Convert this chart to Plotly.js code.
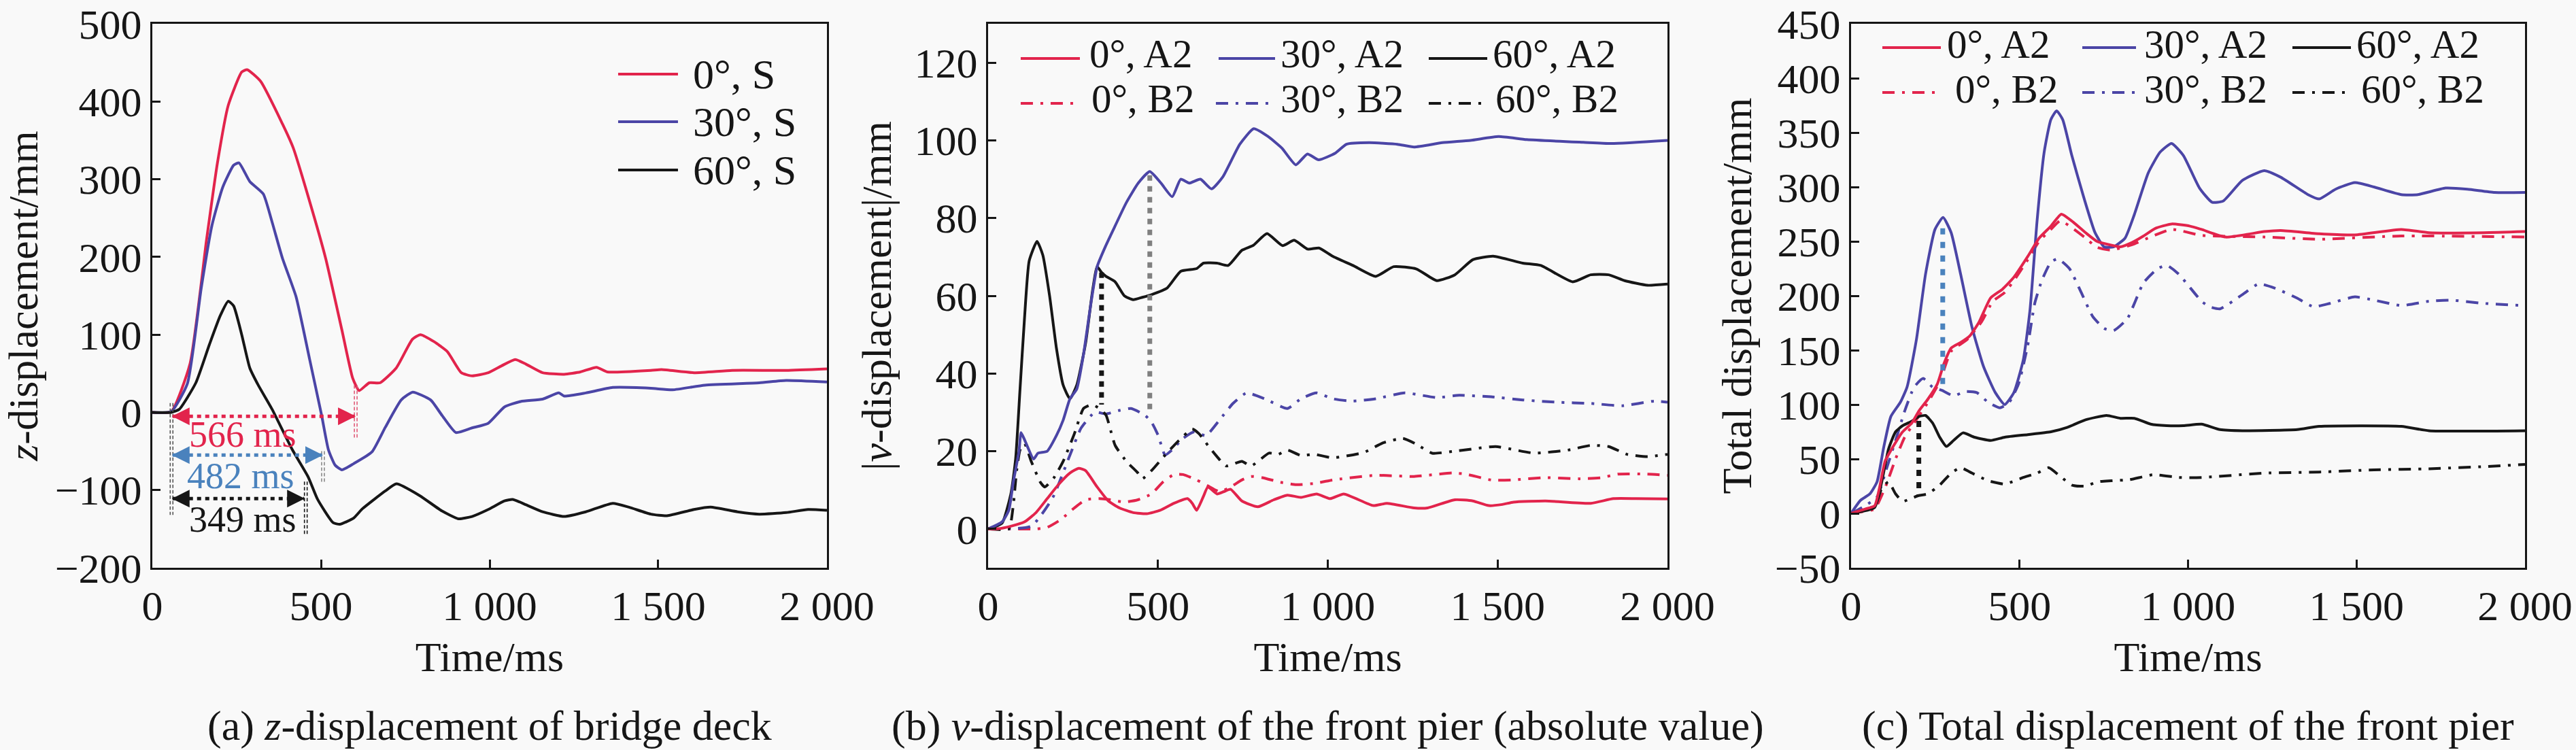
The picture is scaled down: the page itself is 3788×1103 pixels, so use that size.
<!DOCTYPE html>
<html>
<head>
<meta charset="utf-8">
<script src="https://cdn.plot.ly/plotly-3.0.1.min.js"></script>
<style>
  html, body { margin: 0; padding: 0; background: #f9f9f9; }
  #chart { width: 3788px; height: 1103px; }
</style>
</head>
<body>
<div id="chart"></div>
<script>
// (a) z-displacement of the bridge deck, mm
const deckT0 = [0, 56, 112, 161, 193, 225, 265, 281, 321, 386, 418, 466, 514, 562, 594, 613, 643, 675, 723, 771, 795, 835, 875, 916, 948, 996, 1036, 1076, 1108, 1157, 1221, 1269, 1317, 1349, 1478, 1510, 1606, 1719, 1879, 2000]
const deckZ0 = [0, 1, 63, 223, 321, 395, 438, 441, 426, 371, 340, 272, 198, 106, 44, 28, 38, 38, 57, 94, 100, 91, 78, 51, 47, 51, 60, 68, 62, 51, 49, 52, 58, 52, 54, 55, 51, 54, 54, 56]
const deckT30 = [0, 56, 104, 145, 177, 209, 241, 257, 289, 329, 353, 386, 426, 466, 502, 522, 542, 562, 597, 651, 691, 738, 772, 825, 859, 900, 948, 996, 1044, 1092, 1157, 1205, 1221, 1285, 1365, 1478, 1542, 1638, 1799, 1879, 2000]
const deckZ30 = [0, 1, 37, 160, 241, 290, 318, 321, 297, 281, 248, 198, 149, 69, -4, -48, -68, -74, -66, -51, -19, 16, 26, 16, -4, -26, -20, -14, 7, 14, 17, 25, 21, 25, 32, 31, 29, 35, 38, 41, 39]
const deckT60 = [0, 56, 80, 129, 169, 201, 225, 241, 265, 289, 314, 355, 415, 462, 490, 536, 556, 597, 623, 691, 724, 792, 859, 908, 948, 996, 1044, 1068, 1108, 1157, 1221, 1285, 1365, 1413, 1478, 1526, 1606, 1655, 1735, 1799, 1879, 1944, 2000]
const deckZ60 = [0, 0, 4, 38, 87, 124, 143, 137, 100, 57, 35, 4, -48, -83, -112, -142, -144, -136, -124, -101, -92, -107, -127, -137, -134, -125, -114, -112, -119, -128, -134, -128, -117, -122, -131, -133, -125, -122, -128, -131, -129, -125, -126]

// (b) |v-displacement| of the front pier, mm
const vT0A2 = [0, 27, 67, 107, 141, 174, 207, 241, 267, 287, 321, 354, 387, 427, 467, 507, 547, 587, 601, 614, 634, 647, 674, 694, 714, 747, 794, 841, 881, 921, 967, 1007, 1047, 1134, 1174, 1254, 1294, 1374, 1427, 1474, 1514, 1547, 1641, 1774, 1841, 1907, 2000]
const v0A2 = [0, 0, 0.7, 1.8, 4.2, 7.8, 11.4, 14.4, 15.6, 15, 10.8, 7.2, 5.4, 4.2, 3.9, 4.8, 6.6, 7.8, 6.6, 4.8, 8.4, 10.8, 9, 9.6, 10.2, 7.2, 5.7, 7.5, 8.7, 8.1, 9, 7.8, 9, 6, 6.6, 5.4, 5.4, 7.5, 7.2, 6, 6.3, 6.9, 7.2, 6.6, 7.8, 7.8, 7.7]
const vT0B2 = [0, 141, 174, 214, 254, 287, 327, 361, 401, 441, 481, 514, 547, 574, 614, 647, 681, 714, 747, 774, 807, 861, 907, 961, 1014, 1041, 1141, 1254, 1367, 1407, 1481, 1541, 1641, 1741, 1807, 1854, 1941, 2000]
const v0B2 = [0, 0, 0.4, 2.4, 5.4, 7.5, 7.8, 7.5, 6.9, 7.5, 9, 12, 14, 14, 12.6, 11.1, 9.6, 10.8, 12.6, 13.5, 13.2, 12, 11.4, 11.7, 12.6, 12.9, 13.8, 13.5, 14.4, 14.1, 12.6, 12.6, 13.2, 12.9, 13.2, 14.1, 14.1, 13.8]
const vT30A2 = [0, 41, 61, 74, 91, 97, 107, 134, 147, 174, 201, 221, 241, 261, 281, 301, 321, 347, 374, 407, 442, 476, 509, 542, 567, 592, 625, 658, 691, 741, 782, 824, 865, 906, 940, 973, 1022, 1055, 1122, 1205, 1254, 1337, 1420, 1503, 1586, 1752, 1835, 2000]
const v30A2 = [0, 1.8, 4.8, 12, 20, 24.8, 23, 18, 19.5, 20, 24, 28, 33.5, 36, 45, 57, 67.5, 73, 78, 84, 89, 92, 89, 85.5, 90, 89, 90, 87.5, 90.6, 99, 103, 101, 98, 93.7, 96.5, 95, 96.7, 99, 99.4, 99, 98.3, 99.4, 100, 101, 100.2, 99.5, 99.2, 100]
const vT30B2 = [0, 127, 190, 241, 274, 314, 347, 387, 421, 461, 481, 501, 521, 541, 574, 607, 641, 681, 721, 761, 814, 881, 921, 967, 1014, 1074, 1141, 1227, 1321, 1387, 1481, 1574, 1674, 1774, 1867, 1961, 2000]
const v30B2 = [0, 0.7, 8, 19, 26, 30, 29.6, 30.5, 31, 29.3, 27.5, 24, 19, 20.3, 23.3, 25, 24, 28, 32.3, 35, 33.5, 31, 33.5, 35, 33.5, 32.9, 33.5, 35, 33.8, 34.4, 34, 33.2, 32.6, 32.3, 31.7, 32.9, 32.6]
const vT60A2 = [0, 41, 67, 81, 94, 107, 121, 144, 161, 181, 201, 221, 241, 261, 287, 307, 321, 334, 347, 374, 401, 427, 454, 481, 527, 567, 614, 634, 674, 707, 747, 781, 821, 867, 901, 941, 974, 1014, 1074, 1141, 1194, 1261, 1321, 1374, 1427, 1487, 1574, 1627, 1721, 1774, 1827, 1874, 1941, 2000]
const v60A2 = [0, 1.5, 9, 18, 36, 54, 69, 74, 70.5, 60, 46.6, 37, 33.5, 37, 47.8, 61, 67.5, 66, 65, 63.6, 60, 59, 59.6, 60.3, 62, 66.3, 67, 68.4, 68.4, 67.8, 71.7, 73, 76, 72.9, 74.3, 72, 72.3, 70.2, 67.8, 65, 67.5, 66.9, 63.9, 65.4, 69.3, 70.2, 68.4, 67.8, 63.6, 65.4, 65.4, 63.9, 62.7, 63]
const vT60B2 = [0, 61, 74, 84, 94, 107, 127, 154, 167, 194, 221, 254, 281, 307, 327, 347, 374, 407, 441, 454, 481, 521, 561, 601, 621, 647, 674, 701, 747, 774, 827, 854, 881, 921, 961, 1014, 1107, 1161, 1221, 1261, 1307, 1374, 1494, 1607, 1707, 1774, 1827, 1881, 1941, 2000]
const v60B2 = [0, 0, 6, 15, 20.3, 22, 17.4, 12, 10.8, 13.2, 17.4, 24.5, 31, 32, 31, 29.3, 21.5, 17.4, 14.4, 12.9, 15, 19, 22.7, 25.7, 24.5, 21.5, 18.6, 16.2, 17.4, 16.2, 19.5, 19.2, 20.3, 18.9, 19.2, 18.3, 19.7, 22.1, 23.3, 21.8, 19.5, 20, 21.2, 19.5, 20.3, 21.5, 21.2, 19.2, 18.6, 19.2]

// (c) total displacement of the front pier, mm
const totT0A2 = [0, 42, 70, 84, 101, 125, 153, 180, 201, 228, 256, 276, 297, 325, 352, 380, 414, 449, 483, 524, 558, 593, 624, 662, 696, 730, 765, 799, 834, 868, 903, 951, 1006, 1040, 1112, 1226, 1275, 1389, 1495, 1633, 1715, 1878, 2000]
const tot0A2 = [0, 4, 7, 23, 48, 61.5, 75, 83, 94, 105, 119, 138, 152, 157, 163, 176, 198, 206, 217, 236, 253, 264, 275, 267, 258, 250, 247, 245, 249, 255, 262, 266, 264, 261, 254, 259, 260, 257, 256, 261, 258, 258, 259]
const totT0B2 = [0, 42, 70, 104, 132, 159, 187, 228, 263, 297, 345, 387, 421, 456, 490, 524, 558, 593, 621, 662, 696, 730, 772, 834, 951, 1040, 1226, 1389, 1633, 2000]
const tot0B2 = [0, 2, 4, 26, 50, 70, 83, 102, 121, 149, 160, 176, 195, 203, 217, 233, 250, 261, 269, 261, 253, 244.5, 242, 247, 261, 255.5, 254, 252, 255, 254]
const totT30A2 = [0, 28, 56, 77, 97, 118, 146, 166, 194, 221, 249, 273, 297, 325, 359, 393, 428, 456, 483, 511, 531, 552, 573, 593, 610, 628, 655, 690, 724, 751, 779, 813, 841, 882, 917, 951, 986, 1034, 1071, 1104, 1161, 1226, 1275, 1356, 1389, 1438, 1495, 1552, 1633, 1682, 1764, 1829, 1910, 2000]
const tot30A2 = [0, 12, 18, 29, 61, 89, 102, 116, 160, 220, 261, 272, 258, 220, 171, 135, 111, 100, 111, 141, 187, 269, 332, 362, 370, 362, 329, 291, 258, 245, 245, 253, 275, 313, 332, 340, 329, 299, 286, 287, 306, 315, 309, 293, 289, 298, 304, 300, 293, 293, 299, 298, 295, 295]
const totT30B2 = [0, 42, 77, 104, 132, 159, 187, 214, 242, 270, 304, 338, 373, 407, 442, 469, 497, 524, 545, 566, 593, 614, 648, 683, 717, 751, 779, 820, 868, 910, 937, 972, 1040, 1063, 1095, 1161, 1210, 1258, 1323, 1372, 1421, 1495, 1552, 1633, 1715, 1780, 1878, 2000]
const tot30B2 = [0, 7, 15, 40, 67, 94, 116, 124, 116, 113, 108, 112, 111, 102, 97, 102, 119, 154, 193, 214, 231, 234, 225, 203, 181, 170, 168, 179, 212, 225, 228, 220, 195, 190, 188, 201, 211, 207, 198, 190, 193, 199, 196, 191, 195, 196, 193, 191]
const totT60A2 = [0, 70, 91, 111, 132, 153, 180, 201, 221, 242, 263, 283, 304, 332, 366, 414, 456, 524, 593, 641, 696, 758, 799, 841, 889, 937, 986, 1040, 1095, 1161, 1324, 1389, 1633, 1715, 2000]
const tot60A2 = [0, 5.5, 29, 59, 75, 80.6, 84.7, 89, 90, 83, 70, 61.5, 67, 74, 70, 67, 70, 72.4, 75, 79, 86, 90, 87.4, 87.4, 82, 80.6, 80.6, 82, 77, 76, 77, 80, 80, 76, 76]
const totT60B2 = [0, 70, 91, 111, 132, 153, 180, 201, 228, 263, 297, 325, 359, 407, 456, 511, 552, 586, 621, 655, 696, 730, 772, 827, 896, 972, 1040, 1226, 1389, 1552, 1715, 1878, 2000]
const tot60B2 = [0, 7, 23, 29, 18, 11, 14, 16.4, 18, 26, 37, 42, 37, 30, 27, 33, 37, 42, 34, 26, 25, 29, 30, 31, 35.5, 33, 33, 37, 38, 40, 41, 43, 45]

const timeTicks = [0, 500, 1000, 1500, 2000]
const timeTickText = ['0', '500', '1 000', '1 500', '2 000']
const deckNames = ['0°, S', '30°, S', '60°, S']
const pierNames = ['0°, A2', '30°, A2', '60°, A2', '0°, B2', '30°, B2', '60°, B2']

const FONT = 'Liberation Serif, Times New Roman, serif'
const INK = '#161616'
const RED = '#e2244c'
const BLUE = '#4b45a6'
const STEEL = '#4a82bd'
const BG = '#f9f9f9'
const B2_DASH = '18px,11px,4px,11px'
const SIZE = 62
const LEGEND_SIZE = 59
const LW = 4

function curve (x, y, ax, color, dash, name) {
  return {
    type: 'scatter',
    mode: 'lines',
    name,
    x,
    y,
    xaxis: 'x' + ax,
    yaxis: 'y' + ax,
    line: { color, width: LW, dash: dash || 'solid', shape: 'spline', smoothing: 0.5 },
    showlegend: false,
    hoverinfo: 'skip'
  }
}

const traces = [
  curve(deckT0, deckZ0, '', RED, null, deckNames[0]),
  curve(deckT30, deckZ30, '', BLUE, null, deckNames[1]),
  curve(deckT60, deckZ60, '', INK, null, deckNames[2]),

  curve(vT0B2, v0B2, '2', RED, B2_DASH, pierNames[3]),
  curve(vT30B2, v30B2, '2', BLUE, B2_DASH, pierNames[4]),
  curve(vT60B2, v60B2, '2', INK, B2_DASH, pierNames[5]),
  curve(vT60A2, v60A2, '2', INK, null, pierNames[2]),
  curve(vT30A2, v30A2, '2', BLUE, null, pierNames[1]),
  curve(vT0A2, v0A2, '2', RED, null, pierNames[0]),

  curve(totT0B2, tot0B2, '3', RED, B2_DASH, pierNames[3]),
  curve(totT30B2, tot30B2, '3', BLUE, B2_DASH, pierNames[4]),
  curve(totT60B2, tot60B2, '3', INK, B2_DASH, pierNames[5]),
  curve(totT60A2, tot60A2, '3', INK, null, pierNames[2]),
  curve(totT30A2, tot30A2, '3', BLUE, null, pierNames[1]),
  curve(totT0A2, tot0A2, '3', RED, null, pierNames[0])
]

function axis (domain, extra) {
  return Object.assign({
    domain,
    showline: true,
    mirror: true,
    linecolor: INK,
    linewidth: 3,
    ticks: 'inside',
    ticklen: 12,
    tickwidth: 3,
    tickcolor: INK,
    showgrid: false,
    zeroline: false,
    tickfont: { family: FONT, size: SIZE, color: INK }
  }, extra)
}

function timeAxis (domain, anchor) {
  return axis(domain, {
    anchor,
    range: [0, 2000],
    tickvals: timeTicks,
    ticktext: timeTickText,
    title: { text: 'Time/ms', font: { family: FONT, size: SIZE, color: INK }, standoff: 20 }
  })
}

function valueAxis (anchor, range, dtick, title) {
  return axis([0, 1], {
    anchor,
    range,
    dtick,
    tick0: 0,
    title: { text: title, font: { family: FONT, size: SIZE, color: INK }, standoff: 14 }
  })
}

const shapes = []
const annotations = []

// hand-drawn style legends: line sample + label, positions in axis-domain fractions
function legendItem (ax, label, color, dash, x0, x1, tx, ly, ty, size) {
  const xref = 'x' + ax + ' domain'
  const yref = 'y' + ax + ' domain'
  shapes.push({ type: 'line', xref, yref, x0, x1, y0: ly, y1: ly, line: { color, width: LW, dash: dash || 'solid' } })
  annotations.push({ xref, yref, x: tx, y: ty, xanchor: 'left', yanchor: 'middle', text: label, showarrow: false, font: { family: FONT, size: size || LEGEND_SIZE, color: INK } })
}

legendItem('', deckNames[0], RED, null, 0.6905, 0.7792, 0.7994, 0.9075, 0.9075, SIZE)
legendItem('', deckNames[1], BLUE, null, 0.6905, 0.7792, 0.7994, 0.82, 0.82, SIZE)
legendItem('', deckNames[2], INK, null, 0.6905, 0.7792, 0.7994, 0.7313, 0.7313, SIZE)

legendItem('2', pierNames[0], RED, null, 0.048, 0.1351, 0.1471, 0.9363, 0.945)
legendItem('2', pierNames[1], BLUE, null, 0.3393, 0.4224, 0.4284, 0.9363, 0.945)
legendItem('2', pierNames[2], INK, null, 0.6486, 0.7347, 0.7407, 0.9363, 0.945)
legendItem('2', pierNames[3], RED, B2_DASH, 0.048, 0.1251, 0.1502, 0.8538, 0.8625)
legendItem('2', pierNames[4], BLUE, B2_DASH, 0.3353, 0.4154, 0.4284, 0.8538, 0.8625)
legendItem('2', pierNames[5], INK, B2_DASH, 0.6486, 0.7287, 0.7447, 0.8538, 0.8625)

legendItem('3', pierNames[0], RED, null, 0.0464, 0.1332, 0.1403, 0.9563, 0.9625)
legendItem('3', pierNames[1], BLUE, null, 0.3431, 0.4228, 0.4329, 0.9563, 0.9625)
legendItem('3', pierNames[2], INK, null, 0.6549, 0.7417, 0.7477, 0.9563, 0.9625)
legendItem('3', pierNames[3], RED, B2_DASH, 0.0464, 0.1271, 0.1524, 0.8738, 0.88)
legendItem('3', pierNames[4], BLUE, B2_DASH, 0.3431, 0.4228, 0.4329, 0.8738, 0.88)
legendItem('3', pierNames[5], INK, B2_DASH, 0.6549, 0.7417, 0.7548, 0.8738, 0.88)

// dotted measuring arrows
function dotted (ax, x0, y0, x1, y1, color, width, dash) {
  shapes.push({ type: 'line', xref: 'x' + ax, yref: 'y' + ax, x0, y0, x1, y1, line: { color, width, dash } })
}
function head (ax, x, y, fromX, fromY, color) {
  annotations.push({
    xref: 'x' + ax, yref: 'y' + ax, axref: 'x' + ax, ayref: 'y' + ax,
    x, y, ax: fromX, ay: fromY,
    showarrow: true, arrowhead: 2, arrowsize: 1.3, arrowwidth: 4, arrowcolor: color, standoff: 0
  })
}
function thinPair (ax, x, gap, y0, y1, color) {
  [x - gap, x + gap].forEach(xx => {
    shapes.push({ type: 'line', xref: 'x' + ax, yref: 'y' + ax, x0: xx, x1: xx, y0, y1, line: { color, width: 1.6, dash: '5px,3px' } })
  })
}
function label (ax, text, x, y, color) {
  annotations.push({ xref: 'x' + ax, yref: 'y' + ax, x, y, text, showarrow: false, font: { family: FONT, size: 54, color } })
}

// panel (a)
thinPair('', 57, 4, 12, -132, '#555555')
thinPair('', 603, 4, 35, -34, '#e05a78')
thinPair('', 506, 4, -50, -92, '#888888')
thinPair('', 455, 4, -89, -159, INK)
dotted('', 60, -5, 600, -5, RED, 5, '6px,6px')
head('', 58, -5, 100, -5, RED)
head('', 603, -5, 561, -5, RED)
dotted('', 60, -55, 503, -55, STEEL, 5, '6px,6px')
head('', 58, -55, 100, -55, STEEL)
head('', 506, -55, 464, -55, STEEL)
dotted('', 60, -111, 450, -111, INK, 5, '6px,6px')
head('', 58, -111, 100, -111, INK)
head('', 452, -111, 410, -111, INK)
label('', '566 ms', 268, -28.5, RED)
label('', '482 ms', 262, -81.5, STEEL)
label('', '349 ms', 268, -138, INK)

// panel (b)
dotted('2', 334, 66, 334, 32, INK, 7, '8px,8px')
head('2', 334, 30, 334, 35, INK)
dotted('2', 476, 91, 476, 30, '#808080', 7, '8px,8px')
head('2', 476, 28, 476, 33, STEEL)

// panel (c)
dotted('3', 272, 262, 272, 118, STEEL, 7, '9px,11px')
head('3', 272, 266, 272, 254, STEEL)
head('3', 272, 116, 272, 128, STEEL)
dotted('3', 201, 85, 201, 17, INK, 7, '9px,9px')
head('3', 201, 89, 201, 79, INK)
head('3', 201, 15, 201, 25, INK)

// captions under each panel
const captions = [
  ['', '(a) <i>z</i>-displacement of bridge deck'],
  ['2', '(b) <i>v</i>-displacement of the front pier (absolute value)'],
  ['3', '(c) Total displacement of the front pier']
]
captions.forEach(([ax, text]) => {
  annotations.push({ xref: 'x' + ax + ' domain', yref: 'paper', x: 0.5, y: -0.29, xanchor: 'center', yanchor: 'middle', text, showarrow: false, font: { family: FONT, size: SIZE, color: INK } })
})

const layout = {
  width: 3788,
  height: 1103,
  margin: { l: 224, r: 75, t: 35, b: 268 },
  paper_bgcolor: BG,
  plot_bgcolor: BG,
  font: { family: FONT, size: SIZE, color: INK },
  showlegend: false,
  xaxis: timeAxis([0, 0.28432], 'y'),
  yaxis: valueAxis('x', [-200, 500], 100, '<i>z</i>-displacement/mm'),
  xaxis2: timeAxis([0.35225, 0.63858], 'y2'),
  yaxis2: valueAxis('x2', [-10, 130], 20, '|<i>v</i>-displacement|/mm'),
  xaxis3: timeAxis([0.71597, 1], 'y3'),
  yaxis3: valueAxis('x3', [-50, 450], 50, 'Total displacement/mm'),
  shapes,
  annotations
}

Plotly.newPlot('chart', traces, layout, { staticPlot: true })
</script>
</body>
</html>
